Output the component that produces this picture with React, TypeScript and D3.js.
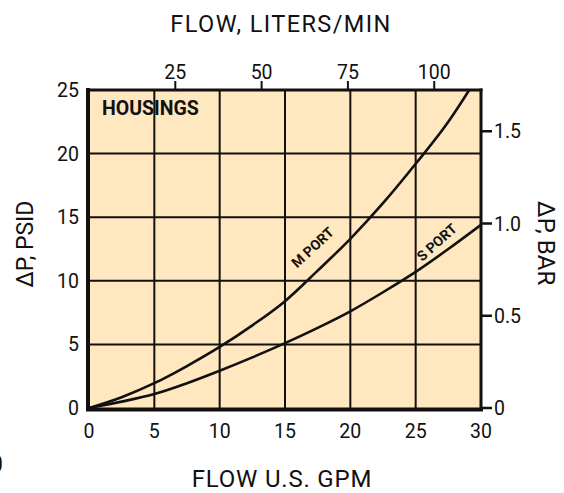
import * as d3 from "d3";
import { useEffect, useRef } from "react";

// flow in U.S. GPM vs pressure drop in PSID
const mPortGpm = [0, 2.5, 5, 7.5, 10, 12.5, 15, 17.5, 20, 22.5, 25, 27.5, 29.1];
const mPortPsi = [0, 0.85, 1.95, 3.3, 4.8, 6.5, 8.4, 10.8, 13.3, 16.1, 19.2, 22.5, 25];
const sPortGpm = [0, 2.5, 5, 7.5, 10, 12.5, 15, 17.5, 20, 22.5, 25, 27.5, 30];
const sPortPsi = [0, 0.5, 1.1, 1.95, 2.93, 3.98, 5.1, 6.3, 7.6, 9.1, 10.7, 12.5, 14.4];

const gpmTicks = [0, 5, 10, 15, 20, 25, 30];
const psiTicks = [0, 5, 10, 15, 20, 25];
const lpmTicks = [25, 50, 75, 100];
const barTicks = [0, 0.5, 1.0, 1.5];
const barLabels = ["0", "0.5", "1.0", "1.5"];

const LPM_PER_GPM = 3.785;
const PSI_PER_BAR = 14.504;

const W = 564;
const H = 493;
const FONT = "Roboto, 'DejaVu Sans', sans-serif";

export default function App() {
  const svgRef = useRef<SVGSVGElement | null>(null);

  useEffect(() => {
    const svg = d3.select(svgRef.current);
    svg.selectAll("*").remove();

    const left = 89, right = 481, top = 90, bottom = 408;
    const x = d3.scaleLinear().domain([0, 30]).range([left, right]);
    const y = d3.scaleLinear().domain([0, 25]).range([bottom, top]);
    const xL = d3.scaleLinear().domain([0, 30 * LPM_PER_GPM]).range([left, right]);
    const yB = d3.scaleLinear().domain([0, 25 / PSI_PER_BAR]).range([bottom, top]);

    svg.append("defs").append("clipPath").attr("id", "plotclip")
      .append("rect").attr("x", left).attr("y", top)
      .attr("width", right - left).attr("height", bottom - top);

    // background
    svg.append("rect")
      .attr("x", left).attr("y", top)
      .attr("width", right - left).attr("height", bottom - top)
      .attr("fill", "#ffe7bf");

    // grid
    const grid = svg.append("g").attr("stroke", "#111").attr("stroke-width", 2);
    grid.selectAll("line.v")
      .data(gpmTicks.slice(1, -1))
      .join("line")
      .attr("class", "v")
      .attr("x1", d => x(d)).attr("x2", d => x(d))
      .attr("y1", top).attr("y2", bottom);
    grid.selectAll("line.h")
      .data(psiTicks.slice(1, -1))
      .join("line")
      .attr("class", "h")
      .attr("x1", left).attr("x2", right)
      .attr("y1", d => y(d)).attr("y2", d => y(d));

    // curves
    const line = d3.line<[number, number]>()
      .x(d => x(d[0]))
      .y(d => y(d[1]))
      .curve(d3.curveMonotoneX);

    const curves = svg.append("g").attr("clip-path", "url(#plotclip)");
    curves.append("path")
      .attr("d", line(mPortGpm.map((g, i) => [g, mPortPsi[i]]))!)
      .attr("fill", "none").attr("stroke", "#111").attr("stroke-width", 2.6);
    curves.append("path")
      .attr("d", line(sPortGpm.map((g, i) => [g, sPortPsi[i]]))!)
      .attr("fill", "none").attr("stroke", "#111").attr("stroke-width", 2.6);

    // frame
    const frame = svg.append("g").attr("stroke", "#111").attr("stroke-linecap", "square");
    frame.append("line").attr("x1", left).attr("x2", right).attr("y1", top).attr("y2", top).attr("stroke-width", 3);
    frame.append("line").attr("x1", right).attr("x2", right).attr("y1", top).attr("y2", bottom + 1).attr("stroke-width", 3);
    frame.append("line").attr("x1", left - 1).attr("x2", left - 1).attr("y1", top).attr("y2", bottom + 1).attr("stroke-width", 4);
    frame.append("line").attr("x1", left - 1).attr("x2", right).attr("y1", bottom + 1.5).attr("y2", bottom + 1.5).attr("stroke-width", 4);

    const text = svg.append("g").attr("font-family", FONT).attr("fill", "#111");

    // left psi labels
    text.selectAll("text.psi")
      .data(psiTicks)
      .join("text")
      .attr("class", "psi")
      .attr("x", left - 10)
      .attr("y", d => y(d) + 7)
      .attr("text-anchor", "end")
      .attr("font-size", 19.5)
      .text(d => d);

    // bottom gpm labels
    text.selectAll("text.gpm")
      .data(gpmTicks)
      .join("text")
      .attr("class", "gpm")
      .attr("x", d => x(d))
      .attr("y", 438)
      .attr("text-anchor", "middle")
      .attr("font-size", 19.5)
      .text(d => d);

    // top liters/min axis
    svg.append("g").attr("stroke", "#111").attr("stroke-width", 2)
      .selectAll("line")
      .data(lpmTicks)
      .join("line")
      .attr("x1", d => xL(d)).attr("x2", d => xL(d))
      .attr("y1", top).attr("y2", top - 9);
    text.selectAll("text.lpm")
      .data(lpmTicks)
      .join("text")
      .attr("class", "lpm")
      .attr("x", d => xL(d))
      .attr("y", 79)
      .attr("text-anchor", "middle")
      .attr("font-size", 19.5)
      .text(d => d);

    // right bar axis
    svg.append("g").attr("stroke", "#111").attr("stroke-width", 2.5)
      .selectAll("line")
      .data(barTicks)
      .join("line")
      .attr("x1", right).attr("x2", right + 11)
      .attr("y1", d => yB(d)).attr("y2", d => yB(d));
    text.selectAll("text.bar")
      .data(barTicks)
      .join("text")
      .attr("class", "bar")
      .attr("x", right + 13)
      .attr("y", d => yB(d) + 7)
      .attr("font-size", 19.5)
      .text((_, i) => barLabels[i]);

    // axis titles
    text.append("text")
      .attr("x", 281).attr("y", 32)
      .attr("text-anchor", "middle")
      .attr("font-size", 23.5)
      .attr("letter-spacing", 1.4)
      .text("FLOW, LITERS/MIN");
    text.append("text")
      .attr("x", 282).attr("y", 487)
      .attr("text-anchor", "middle")
      .attr("font-size", 24)
      .attr("letter-spacing", 0.8)
      .text("FLOW U.S. GPM");
    text.append("text")
      .attr("transform", "translate(33,244) rotate(-90)")
      .attr("text-anchor", "middle")
      .attr("font-size", 23)
      .text("ΔP, PSID");
    text.append("text")
      .attr("transform", "translate(538,243) rotate(90)")
      .attr("text-anchor", "middle")
      .attr("font-size", 24)
      .text("ΔP, BAR");

    // stray clipped glyph at left edge
    text.append("text")
      .attr("x", 3).attr("y", 472)
      .attr("text-anchor", "end")
      .attr("font-size", 24)
      .text("0");

    // in-plot labels
    text.append("text")
      .attr("x", 102).attr("y", 115)
      .attr("font-size", 19.5)
      .attr("font-weight", 700)
      .text("HOUSINGS");
    text.append("text")
      .attr("transform", "translate(316,251) rotate(-43)")
      .attr("text-anchor", "middle")
      .attr("font-size", 14)
      .attr("font-weight", 700)
      .text("M PORT");
    text.append("text")
      .attr("transform", "translate(440,246) rotate(-42)")
      .attr("text-anchor", "middle")
      .attr("font-size", 14)
      .attr("font-weight", 700)
      .text("S PORT");
  }, []);

  return (
    <svg
      ref={svgRef}
      width={W}
      height={H}
      style={{ position: "absolute", left: 0, top: 0, display: "block" }}
    />
  );
}
